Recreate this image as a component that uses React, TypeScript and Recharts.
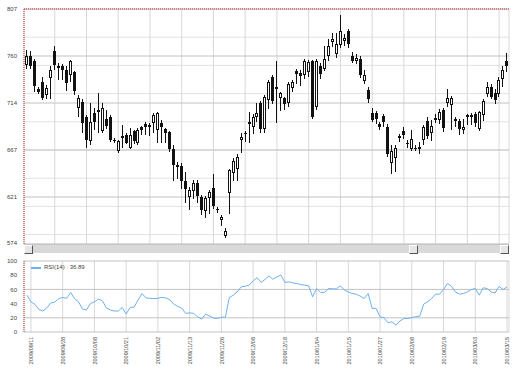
import React from 'react';
import { ComposedChart, Bar, Line, XAxis, YAxis, CartesianGrid, ReferenceLine, Legend } from 'recharts';

const dates = [
  '2009/09/10', '2009/09/11', '2009/09/14', '2009/09/15', '2009/09/16', '2009/09/17', '2009/09/18', '2009/09/24', '2009/09/25', '2009/09/28', '2009/09/29', '2009/09/30',
  '2009/10/01', '2009/10/02', '2009/10/05', '2009/10/06', '2009/10/07', '2009/10/08', '2009/10/09', '2009/10/13', '2009/10/14', '2009/10/15', '2009/10/16', '2009/10/19', '2009/10/20', '2009/10/21', '2009/10/22', '2009/10/23', '2009/10/26', '2009/10/27', '2009/10/28', '2009/10/29', '2009/10/30',
  '2009/11/02', '2009/11/04', '2009/11/05', '2009/11/06', '2009/11/09', '2009/11/10', '2009/11/11', '2009/11/12', '2009/11/13', '2009/11/16', '2009/11/17', '2009/11/18', '2009/11/19', '2009/11/20', '2009/11/24', '2009/11/25', '2009/11/26', '2009/11/27', '2009/11/30',
  '2009/12/01', '2009/12/02', '2009/12/03', '2009/12/04', '2009/12/07', '2009/12/08', '2009/12/09', '2009/12/10', '2009/12/11', '2009/12/14', '2009/12/15', '2009/12/16', '2009/12/17', '2009/12/18', '2009/12/21', '2009/12/22', '2009/12/24', '2009/12/25', '2009/12/28', '2009/12/29', '2009/12/30',
  '2010/01/04', '2010/01/05', '2010/01/06', '2010/01/07', '2010/01/08', '2010/01/12', '2010/01/13', '2010/01/14', '2010/01/15', '2010/01/18', '2010/01/19', '2010/01/20', '2010/01/21', '2010/01/22', '2010/01/25', '2010/01/26', '2010/01/27', '2010/01/28', '2010/01/29',
  '2010/02/01', '2010/02/02', '2010/02/03', '2010/02/04', '2010/02/05', '2010/02/08', '2010/02/09', '2010/02/10', '2010/02/12', '2010/02/15', '2010/02/16', '2010/02/17', '2010/02/18', '2010/02/19', '2010/02/22', '2010/02/23', '2010/02/24', '2010/02/25', '2010/02/26',
  '2010/03/01', '2010/03/02', '2010/03/03', '2010/03/04', '2010/03/05', '2010/03/08', '2010/03/09', '2010/03/10', '2010/03/11', '2010/03/12', '2010/03/15',
];

const openValues = [
  751, 760, 755, 728, 735, 722, 739, 765, 749, 750, 747, 742,
  745, 709, 715, 700, 676, 704, 705, 686, 698, 700, 677.5, 666, 679, 682, 669, 686, 674, 690, 693, 691.5, 694,
  687, 694, 688, 685, 668, 650, 651, 636, 621, 627, 634, 621, 607, 620, 630, 609, 598, 582, 625,
  644, 648, 677, 684.5, 693, 690, 700, 714, 688, 717, 740, 728, 719, 719, 714, 729, 746, 744, 742, 745, 755,
  710, 750, 748, 760, 774, 762, 771, 775, 785, 760, 755, 757, 736, 727, 704, 704, 693, 701, 690,
  654, 659, 681, 686, 674, 668, 669.5, 670, 677, 696, 684, 699, 697, 707, 714, 712, 698, 696, 687,
  702, 702, 703, 688, 702, 723, 730, 724, 723, 738, 755,
];

const highValues = [
  766, 765, 757, 730, 740, 732, 750, 770, 753, 752, 750, 756,
  746, 722, 718, 702, 714, 709, 724, 714, 707, 702, 679, 677, 692, 684, 689, 687, 689, 691, 695, 694, 704,
  705, 697, 689, 686, 672, 655, 654, 645, 631, 637, 637, 623, 622, 628, 643, 611, 603, 590, 648,
  659, 663, 684, 686, 705, 703, 714, 716, 722, 737, 742, 755, 725, 720, 735, 737, 748, 747, 757, 756, 756,
  757, 753, 770, 777, 783, 783, 801, 782, 787, 764, 762, 760, 747, 730, 709, 706, 695, 703, 693,
  672, 672, 683, 690, 677, 687, 672, 675, 692, 700, 697, 703, 708, 709, 728, 721, 700, 698, 698,
  703, 704, 705, 706, 718, 735, 733, 728, 740, 750, 763,
];

const lowValues = [
  748, 748, 725, 723, 717, 718, 718, 747, 737, 737, 726, 735,
  722, 700, 684, 669, 672, 687, 684, 684, 688, 675, 674, 664, 669, 673, 668, 673, 672, 682, 682, 681, 684,
  674, 674, 674, 665, 636, 638, 629, 615, 608, 619, 615, 603, 600, 604, 609, 605, 592, 580, 604,
  636, 636, 664, 675, 674, 683, 695, 684, 684, 708, 713, 694, 706, 707, 710, 725, 733, 731, 738, 740, 698,
  707, 738, 746, 755, 769, 758, 768, 770, 768, 753, 752, 739, 733, 714, 695, 693, 687, 690, 660,
  643, 645, 675, 678, 669, 666, 666, 663, 672, 678, 676, 694, 693, 685, 710, 687, 690, 682, 683,
  692, 692, 690, 686, 696, 720, 718, 713, 720, 730, 745,
];

const closeValues = [
  760, 750, 731, 725, 719, 729, 747, 751, 750, 747, 734, 755,
  726, 719, 694, 677, 695, 695, 707, 709, 691, 677, 676.5, 676, 681, 674, 682, 676, 687, 687, 690, 690.5, 702,
  704, 690, 684, 668, 652, 652, 636, 629, 628, 634, 622, 608, 620, 626, 612, 608, 601, 587, 647,
  656, 660, 680, 684, 695, 700, 704, 688, 720, 735, 716, 730, 724, 713, 733, 735, 743, 741, 755, 754, 700,
  755, 743, 757, 770, 777, 772, 785, 778, 772, 755, 758, 742, 742, 718, 697, 698, 690, 695, 663,
  666, 669, 679, 682, 673, 678, 669, 670.5, 690, 681, 691, 697, 705, 689, 719, 719, 696, 688, 690,
  700, 700, 694, 705, 716, 730, 720, 717, 737, 747, 750,
];

const rsiValues = [
  52, 42.5, 39, 31.8, 29.5, 34, 41, 42, 47, 48.6, 47.5, 55.7,
  47, 42.5, 32.2, 31, 40.2, 42.5, 46.3, 44, 34, 31, 29.5, 29.5, 34.6, 25.2, 34.6, 35, 45, 54.2, 48, 47.5, 47,
  47.5, 48.8, 48, 45.3, 39.3, 36, 33.6, 26.2, 27, 26.2, 21.5, 18.2, 25, 22.7, 19.6, 19, 21, 20.6, 48.6,
  51.8, 56.5, 63.6, 64.5, 65.9, 72, 76.6, 70, 74, 79, 74.3, 77.6, 80.4, 69.7, 70.6, 69.2, 68.3, 66.9, 66, 65, 49.5,
  61.3, 55.7, 55.7, 61.3, 60.8, 60.8, 65, 59, 56.5, 54.2, 53.3, 50.5, 47.2, 54.2, 33.2, 33.2, 21.5, 20, 13,
  14.4, 9.8, 15.4, 19, 19, 20.5, 21.5, 22.4, 39.3, 42.5, 47.2, 53.3, 53.3, 59.8, 68.2, 64.5, 56.5, 53.3, 54.2,
  56.5, 59.8, 61.3, 51.9, 62.2, 61.3, 56.5, 55, 64.5, 59.8, 63.6,
];

const priceTicks = [807, 760.4, 713.8, 667.2, 620.6, 574];
const rsiTicks = [0, 20, 40, 60, 80, 100];
const legendLabel = 'RSI(14) : 36.89';

const data = dates.map((date, i) => ({
  date,
  open: openValues[i],
  high: highValues[i],
  low: lowValues[i],
  close: closeValues[i],
  range: [lowValues[i], highValues[i]],
  rsi: rsiValues[i],
}));

const mainGridTicks = dates.filter((_, i) => i % 8 === 7);
const rsiLabelTicks = dates.filter((_, i) => i % 8 === 1);
const minorTicks = Array.from({ length: 26 }, (_, k) => 574 + k * 9.32);

const FONT = '"Liberation Sans", Arial, sans-serif';
const tickStyle = { fontSize: 6, fill: '#444', fontFamily: FONT };

const Candle = (props: any) => {
  const { x, y, width, height, payload } = props;
  if (!payload || x == null) return null;
  const { open, close, high, low } = payload;
  const top = Math.min(y, y + height);
  const h = Math.abs(height);
  const ratio = high - low > 0 ? h / (high - low) : 0;
  const yOf = (v: number) => top + (high - v) * ratio;
  const cx = Math.floor(x + width / 2);
  const bTop = Math.round(yOf(Math.max(open, close)));
  const bBot = Math.max(bTop + 1, Math.round(yOf(Math.min(open, close))));
  const up = close >= open;
  return (
    <g>
      <line x1={cx + 0.5} x2={cx + 0.5} y1={Math.round(top)} y2={Math.round(top + h)} stroke="#111" strokeWidth={1} />
      {up ? (
        <rect x={cx - 0.5} y={bTop + 0.5} width={2} height={Math.max(1, bBot - bTop - 1)} fill="#fff" stroke="#111" strokeWidth={1} />
      ) : (
        <rect x={cx - 1} y={bTop} width={3} height={bBot - bTop} fill="#111" />
      )}
    </g>
  );
};

const EmptyTick = () => <g />;

const DateTick = (props: any) => {
  const { x, y, payload } = props;
  return (
    <text
      x={x}
      y={y}
      transform={`rotate(-90, ${x}, ${y})`}
      textAnchor="end"
      dy="0.4em"
      fontSize={5.5}
      fill="#444"
      fontFamily={FONT}
    >
      {payload.value}
    </text>
  );
};

const RsiLegend = () => (
  <div style={{ display: 'flex', alignItems: 'center', fontSize: 6, color: '#444', whiteSpace: 'nowrap', fontFamily: FONT, lineHeight: '7px' }}>
    <svg width={10} height={4} style={{ display: 'block' }}>
      <line x1={0} y1={2} x2={10} y2={2} stroke="#6eb0f2" strokeWidth={2} />
    </svg>
    <span style={{ marginLeft: 3 }}>{legendLabel}</span>
  </div>
);

const thumb = (left: number) => (
  <div
    style={{
      position: 'absolute',
      left,
      top: 0,
      width: 9,
      height: 9,
      boxSizing: 'border-box',
      background: '#e6e6e6',
      borderTop: '1px solid #fff',
      borderLeft: '1px solid #fff',
      borderRight: '1px solid #555',
      borderBottom: '1px solid #555',
    }}
  />
);

export default function App() {
  return (
    <div style={{ position: 'absolute', left: 0, top: 0, width: 520, height: 374, background: '#fff', fontFamily: FONT, overflow: 'hidden' }}>
      <div style={{ position: 'absolute', left: 0, top: 0 }}>
        <ComposedChart width={520} height={246} data={data} margin={{ top: 9, right: 11, bottom: 1, left: 0 }}>
          <CartesianGrid yAxisId="minor" vertical={false} stroke="#e2e2e2" />
          <CartesianGrid horizontal={false} stroke="#d8d8d8" />
          <CartesianGrid vertical={false} stroke="#c2c2c2" />
          <XAxis
            dataKey="date"
            scale="band"
            ticks={mainGridTicks}
            interval={0}
            tick={<EmptyTick />}
            tickLine={false}
            axisLine={false}
            height={1}
            padding={{ left: 1, right: 0 }}
          />
          <YAxis
            domain={[574, 807]}
            ticks={priceTicks}
            tickFormatter={(v: number) => String(Math.round(v))}
            width={24}
            tickSize={0}
            tickMargin={7}
            tickLine={false}
            axisLine={{ stroke: '#cc3333', strokeDasharray: '1 1' }}
            tick={tickStyle}
            allowDataOverflow
          />
          <YAxis yAxisId="minor" hide domain={[574, 807]} ticks={minorTicks} allowDataOverflow />
          <ReferenceLine y={807} stroke="#cc3333" strokeDasharray="1 1" />
          <Bar dataKey="range" isAnimationActive={false} shape={(p: any) => <Candle {...p} />} />
        </ComposedChart>
      </div>
      <div style={{ position: 'absolute', left: 24, top: 244, width: 485, height: 9, background: '#d9d9d9', boxSizing: 'border-box', borderTop: '1px solid #c6c6c6' }}>
        {thumb(0)}
        {thumb(385)}
        {thumb(476)}
      </div>
      <div style={{ position: 'absolute', left: 0, top: 254 }}>
        <ComposedChart width={520} height={120} data={data} margin={{ top: 7, right: 11, bottom: 0, left: 0 }}>
          <CartesianGrid horizontal={false} stroke="#d8d8d8" />
          <CartesianGrid vertical={false} stroke="#c2c2c2" />
          <XAxis
            dataKey="date"
            scale="band"
            ticks={rsiLabelTicks}
            interval={0}
            tick={<DateTick />}
            tickLine={false}
            axisLine={false}
            height={42}
            tickSize={0}
            tickMargin={5}
            padding={{ left: 1, right: 0 }}
          />
          <YAxis
            domain={[0, 100]}
            ticks={rsiTicks}
            width={24}
            tickSize={0}
            tickMargin={7}
            tickLine={false}
            axisLine={{ stroke: '#cc3333', strokeDasharray: '1 1' }}
            tick={tickStyle}
          />
          <Legend
            layout="horizontal"
            verticalAlign="middle"
            align="center"
            wrapperStyle={{ top: 10, left: 31, width: 'auto' }}
            content={() => <RsiLegend />}
          />
          <Line dataKey="rsi" type="linear" stroke="#6eb0f2" strokeWidth={1} dot={false} activeDot={false} isAnimationActive={false} />
        </ComposedChart>
      </div>
    </div>
  );
}
